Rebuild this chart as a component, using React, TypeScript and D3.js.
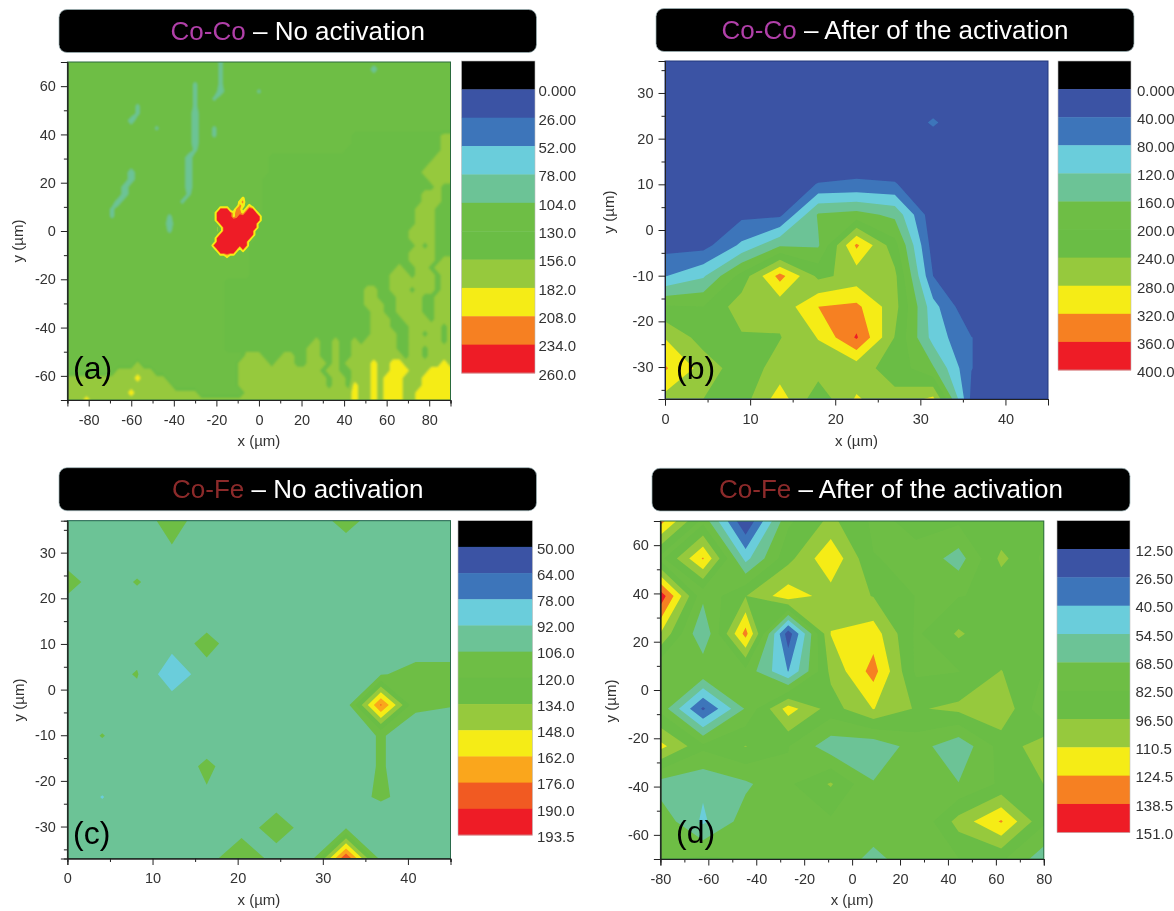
import React, { useEffect, useRef } from 'react'
import * as d3 from 'd3'

const FONT = '"Liberation Sans", Arial, sans-serif'

// band colours, low to high. black sits under the lowest label in the legend
const bands = ['#3a53a4', '#3c75ba', '#6bcddb', '#6cc396', '#6ebe45', '#6abd45', '#96c93d', '#f5ec13', '#f68020', '#ee1c25']
const bandsC = ['#3a53a4', '#3c75ba', '#6bcddb', '#6cc396', '#6ebe45', '#6abd45', '#96c93d', '#f5ec13', '#faa61a', '#f15a22', '#ee1c25']

const labelsA = ['0.000', '26.00', '52.00', '78.00', '104.0', '130.0', '156.0', '182.0', '208.0', '234.0', '260.0']
const labelsB = ['0.000', '40.00', '80.00', '120.0', '160.0', '200.0', '240.0', '280.0', '320.0', '360.0', '400.0']
const labelsC = ['50.00', '64.00', '78.00', '92.00', '106.0', '120.0', '134.0', '148.0', '162.0', '176.0', '190.0', '193.5']
const labelsD = ['12.50', '26.50', '40.50', '54.50', '68.50', '82.50', '96.50', '110.5', '124.5', '138.5', '151.0']

// panel a: map read in bands, one char per node, 3 um apart
// t/4 teal, . and : the two greens, 7 lime, 8 yellow
const bandValue = { t: 99, '4': 91, '.': 115, ':': 145, '7': 169, '8': 195, r: 255, o: 220, y: 195, l: 165, '-': 120 }

const mapA = [
  '.......... .......... ....t..... .......... .......... .......... .',
  '.......... .......... ....t..... .......... ........4. .......... .',
  '.......... .......... ....t..... .......... .......... .......... .',
  '.......... .......... t...t..... .......... .......... .......... .',
  '.......... .......... t...4..... t......... .......... .......... .',
  '.......... .......... t..t...... .......... .......... .......... .',
  '.......... .t........ t......... .......... .......... .......... .',
  '.......... .t........ 4......... .......... .......... .......... .',
  '.......... 4......... 4......... .......... .......... .......... .',
  '.......... ....t..... 4..t...... .......... .......... .......... .',
  '.......... .......... 4..t...... .......... .....::::: :::::::::7 7',
  '.......... .......... 4......... .......... .....::::: :::::::::7 7',
  '.......... .......... t......... .......... ....:::::: :::::::::7 7',
  '.......... .........4 .......... ..:::::::: :::::::::: ::::::::77 7',
  '.......... .........4 .......... ..:::::::: :::::::::: :::::::777 7',
  '.......... 4........4 .......... ..:::::::: :::::::::: ::::::7777 7',
  '.......... 4........4 .......... .::::::::: :::::::::: :::::::777 7',
  '.........4 .........4 .......... .::::::::: :::::::::: ::::::::7: :',
  '.........4 .........t .......... .::::::::: :::::::::: ::::::777: :',
  '........4. ........t. .......... .::::::::: :::::::::: ::::::777: :',
  '.......t.. .......... .......... .::::::::: :::::::::: :::::777:: :',
  '.......t.. ......t... .......... .::::::::: :::::::::: :::::777:: :',
  '.......... ......4... .......... :::::::::: :::::::::: :::::777:: :',
  '.......... ......t... .......... :::::::::: :::::::::: ::::7777:: :',
  '.......... .......... .......... :::::::::: :::::::::: ::::7777:: :',
  '.......... .......... .........: :::::::::: :::::::::: :::::7:7:: :',
  '.......... .......... .........: :::::::::: :::::::::: ::::7777:: :',
  '.......... .......... .........: :::::::::: :::::::::: ::::7777:7 7',
  '.......... .......... .........: :::::::::: :::::::::: ::7::77:77 7',
  '.......... .......... .........: :::::::::: :::::::::: :777:777:7 7',
  '.......... .......... .....::::: :::::::::: :::::::::: :7777777:7 7',
  '.......... .......... .....::::: :::::::::: :::::::77: :777:777:7 7',
  '.......... .......... .....::::: :::::::::: :::::::77: ::7777::77 7',
  '.......... .......... .....::::: :::::::::: :::::::777 ::7777::77 7',
  '.......... .......... .....::::: :::::::::: ::::::::77 ::7777::77 7',
  '.......... .......... .....::::: :::::::::: ::::::::77 7::7777:77 7',
  '.......... .......... .....::::: :::::::::: ::::::::77 7:::77777: 7',
  '.......... .......... .....::::: :::::::::: ::::::::77 77::77:77: 7',
  '.......... .......... .....::::: :::::::::7 ::7::7:777 77::77777: 7',
  '.......... .......... .....::::: ::::::::77 ::7::77777 77::77:777 7',
  '.......... .......... ........77 7:::77::77 ::7::77777 777:77:777 7',
  '.......... .7........ .......777 77:777::77 7:7:777787 7887777778 7',
  '........77 7777...... .......777 7777777777 :77::77787 7888777888 8',
  '7777777777 787777.... .......777 7777777777 7:77:77787 8887778888 8',
  '7777777777 7777777... .......777 7777777777 7:77:87787 8887778888 8',
  '7777777777 8777777777 7.......77 7777777777 7777787787 8887788888 8',
  '7778777777 7777777777 7777777777 7777777777 7777787787 8887788888 8',
]

// the red grain at the centre, 1.5 um apart, drawn over mapA
const grainA = [
  '...................',
  '...........y.......',
  '..........yo.......',
  '..........oy.y.....',
  '....rrr..oo.yrr....',
  '...rrrrryooyrrrr...',
  '...rrrrryorrrrrrr..',
  '...rrrrrrrrrrrrrr..',
  '....rrrrrrrrrrrr...',
  '...l.rrrrrrrrrrr...',
  '...l.rrrrrrrrrr....',
  '....rrrrrrrrrrr....',
  '...rrrrrrrrrrr.....',
  '...rrrrrrrrrr......',
  '..rrrrrrrrrrr......',
  '...rrrrrrr.r.......',
  '....rrrrr..........',
  '......y............',
  '...................',
]

// panel b, rows from y = 37 down to -37, columns x = 0 to 45
const gridB = [
  [15, 15, 15, 15, 15, 15, 15, 15, 15, 15, 15],
  [15, 15, 15, 15, 15, 15, 15, 15, 15, 15, 15],
  [15, 15, 15, 15, 15, 15, 15, 44, 15, 15, 15],
  [15, 15, 15, 15, 15, 15, 15, 15, 15, 15, 15],
  [15, 15, 15, 25, 41, 45, 42, 15, 15, 15, 15],
  [15, 15, 30, 30, 165, 175, 150, 10, 10, 10, 10],
  [25, 25, 88, 155, 155, 328, 215, 20, 10, 10, 10],
  [78, 115, 215, 335, 230, 255, 250, 40, 5, 10, 10],
  [205, 200, 262, 253, 320, 330, 255, 95, 1, 10, 10],
  [278, 222, 235, 238, 282, 365, 238, 105, 41, 10, 10],
  [325, 265, 215, 258, 258, 255, 225, 165, 41, 10, 10],
  [267, 240, 220, 300, 215, 285, 250, 290, 30, 10, 10],
]

// panel c, rows from y = 37 down to -37, columns x = 0 to 45
const gridC = [
  [100, 100, 97, 113, 97, 100, 100, 100, 110, 100, 100, 100],
  [100, 100, 100, 104, 100, 100, 100, 100, 100, 100, 100, 100],
  [110, 100, 106.8, 100, 100, 100, 100, 100, 100, 100, 100, 100],
  [100, 100, 100, 100, 97, 100, 100, 100, 100, 100, 100, 100],
  [100, 100, 100, 97, 111, 97, 100, 100, 100, 100, 100, 100],
  [100, 100, 107, 82, 100, 100, 100, 100, 100, 105, 110, 110],
  [100, 100, 100, 100, 100, 100, 100, 100, 98, 178, 108, 106.5],
  [100, 106.5, 100, 100, 97, 100, 100, 100, 100, 107, 100, 100],
  [100, 100, 100, 97, 109, 97, 100, 100, 100, 107, 100, 100],
  [100, 91.5, 100, 100, 104, 100, 100, 100, 100, 108.2, 100, 100],
  [100, 100, 100, 100, 100, 100, 112, 100, 105, 93, 100, 100],
  [100, 100, 100, 100, 100, 118, 100, 100, 190, 100, 100, 100],
]

// panel d, rows from y = 70 down to -70, columns x = -80 to 80
const gridD = [
  [130, 78, 13, 80, 100, 80, 85, 85, 85, 85],
  [78, 126, 50, 92, 122, 83, 80, 62, 100, 80],
  [148, 72, 96, 119, 104, 96, 82, 82, 85, 85],
  [110, 55, 130, 18, 111, 118, 80, 98.5, 85, 85],
  [69, 80, 78, 40, 100, 130, 80, 82, 97, 82],
  [78, 24, 70, 117, 90, 111, 95, 100, 108, 72],
  [115, 86, 97, 83, 60, 58, 75, 58, 88, 105],
  [62, 57, 66, 80, 98, 69.5, 80, 69, 85, 96.6],
  [78, 52, 75, 80, 80, 80, 69, 102, 126, 85],
  [80, 85, 82, 82, 82, 63, 80, 82, 85, 60],
]

const ticksWide = [-80, -60, -40, -20, 0, 20, 40, 60, 80]
const minorWide = [-90, -70, -50, -30, -10, 10, 30, 50, 70, 90]
const minorWideD = [-70, -50, -30, -10, 10, 30, 50, 70]
const ticksTall = [-60, -40, -20, 0, 20, 40, 60]
const minorTall = [-70, -50, -30, -10, 10, 30, 50, 70]
const ticksNarrow = [0, 10, 20, 30, 40]
const minorNarrow = [5, 15, 25, 35, 45]
const ticksSmallY = [-30, -20, -10, 0, 10, 20, 30]
const minorSmallY = [-35, -25, -15, -5, 5, 15, 25, 35]

const parseRows = (rows: string[]) =>
  rows.map((r) => Array.from(r.replace(/ /g, ''), (c) => bandValue[c]))

const Axis = ({ scale, side, y, x, ticks, minor }) => {
  const ref = useRef(null)
  useEffect(() => {
    const g = d3.select(ref.current)
    g.selectAll('*').remove()
    const make = side === 'bottom' ? d3.axisBottom : d3.axisLeft
    const minorAxis = make(scale).tickValues(minor).tickSize(3.5).tickFormat(() => '')
    const majorAxis = make(scale)
      .tickValues(ticks)
      .tickSize(6.5)
      .tickPadding(side === 'bottom' ? 8 : 5)
      .tickFormat((d) => String(d)) // plain hyphen, as in the figure
    g.append('g').call(minorAxis)
    g.append('g').call(majorAxis)
    g.selectAll('path.domain').attr('stroke', '#222')
    g.selectAll('line').attr('stroke', '#222')
    g.selectAll('text')
      .attr('fill', '#333')
      .attr('font-family', FONT)
      .attr('font-size', 14.5)
  }, [scale, side, ticks, minor])
  return <g ref={ref} transform={`translate(${x},${y})`} />
}

// filled contours of a value grid, nodes placed through the panel's data scales
const ContourLayer = ({ grid, levels, colors, x, y, x0, y0, dx, dy, edge = null }) => {
  const h = grid.length
  const w = grid[0].length
  const gen = d3.contours().size([w, h]).smooth(true).thresholds(levels)
  const polys = gen(grid.flat())
  const path = d3.geoPath(d3.geoTransform({
    point(gx, gy) {
      this.stream.point(x(x0 + (gx - 0.5) * dx), y(y0 - (gy - 0.5) * dy))
    },
  }))
  return (
    <g>
      {polys.map((p, i) => (
        <path
          key={i}
          d={path(p)}
          fill={colors[i]}
          stroke={edge && edge.level === i ? colors[i] : 'none'}
          strokeWidth={edge && edge.level === i ? edge.width : 0}
          strokeLinejoin="round"
        />
      ))}
    </g>
  )
}

const Legend = ({ box, labels, colors, labelX }) => {
  const all = ['#000000', ...colors]
  const ly = d3.scaleLinear().domain([0, all.length]).range([box.top, box.bottom])
  return (
    <g>
      {all.map((c, i) => (
        <rect key={c + i} x={box.left} y={ly(i)} width={box.right - box.left} height={ly(i + 1) - ly(i) + 0.4} fill={c} />
      ))}
      <rect x={box.left} y={box.top} width={box.right - box.left} height={box.bottom - box.top} fill="none" stroke="#bbb" strokeWidth={0.6} />
      {labels.map((t, i) => (
        <text key={t} x={labelX} y={ly(i + 1) + 6.8} fontFamily={FONT} fontSize={15} fill="#333">{t}</text>
      ))}
    </g>
  )
}

const Title = ({ box, lead, leadColor, rest, baseline }) => (
  <g>
    <rect x={box.left} y={box.top} width={box.right - box.left} height={box.bottom - box.top} rx={8} fill="#000" stroke="#9db4b8" strokeWidth={0.7} />
    <text x={(box.left + box.right) / 2} y={baseline} textAnchor="middle" fontFamily={FONT} fontSize={26} fill="#fff">
      <tspan fill={leadColor}>{lead}</tspan>
      <tspan> – {rest}</tspan>
    </text>
  </g>
)

const Panel = ({ p }) => {
  const x = d3.scaleLinear().domain(p.xDomain).range([p.plot.left, p.plot.right])
  const y = d3.scaleLinear().domain(p.yDomain).range([p.plot.bottom, p.plot.top])
  const grid = p.grid
  const dx = (p.xDomain[1] - p.xDomain[0]) / (grid[0].length - 1)
  const dy = (p.yDomain[1] - p.yDomain[0]) / (grid.length - 1)
  const levels = p.labels.slice(0, -1).map(Number)
  return (
    <g>
      <Title box={p.title} lead={p.lead} leadColor={p.leadColor} rest={p.rest} baseline={p.titleBase} />
      <clipPath id={`clip-${p.id}`}>
        <rect x={p.plot.left} y={p.plot.top} width={p.plot.right - p.plot.left} height={p.plot.bottom - p.plot.top} />
      </clipPath>
      <g clipPath={`url(#clip-${p.id})`}>
        <g filter={p.inset ? 'url(#softer)' : undefined}>
          <rect x={p.plot.left - 12} y={p.plot.top - 12} width={p.plot.right - p.plot.left + 24} height={p.plot.bottom - p.plot.top + 24} fill={p.inset ? p.colors[4] : p.colors[0]} />
          <ContourLayer grid={grid} levels={levels} colors={p.colors} x={x} y={y} x0={p.xDomain[0]} y0={p.yDomain[1]} dx={dx} dy={dy} />
        </g>
        {p.inset && (
          <ContourLayer grid={p.inset.grid} levels={levels.slice(6)} colors={p.colors.slice(6)} x={x} y={y} x0={p.inset.x0} y0={p.inset.y0} dx={p.inset.step} dy={p.inset.step} edge={{ level: 1, width: 2.4 }} />
        )}
      </g>
      <rect x={p.plot.left} y={p.plot.top} width={p.plot.right - p.plot.left} height={p.plot.bottom - p.plot.top} fill="none" stroke={p.frame} strokeWidth={1} />
      <Axis scale={x} side="bottom" x={0} y={p.plot.bottom} ticks={p.xTicks} minor={p.xMinor} />
      <Axis scale={y} side="left" x={p.plot.left} y={0} ticks={p.yTicks} minor={p.yMinor} />
      <text x={(p.plot.left + p.plot.right) / 2} y={p.xLabelY} textAnchor="middle" fontFamily={FONT} fontSize={15} fill="#333">x (µm)</text>
      <text transform={`translate(${p.yLabel[0]},${p.yLabel[1]}) rotate(-90)`} textAnchor="middle" fontFamily={FONT} fontSize={15} fill="#333">y (µm)</text>
      <text x={p.tag[0]} y={p.tag[1]} fontFamily={FONT} fontSize={32} fill="#000">{p.tagText}</text>
      <Legend box={p.legend} labels={p.labels} colors={p.colors} labelX={p.labelX} />
    </g>
  )
}

const panels = [
  {
    id: 'a', tagText: '(a)', lead: 'Co-Co', leadColor: '#b13fa9', rest: 'No activation',
    title: { left: 59, right: 536.5, top: 9.5, bottom: 52.5 }, titleBase: 40,
    plot: { left: 67.4, right: 450.5, top: 62, bottom: 400 },
    legend: { left: 461.5, right: 535, top: 61, bottom: 373 }, labelX: 538.5,
    xDomain: [-90, 90], yDomain: [-70, 70], xTicks: ticksWide, xMinor: minorWide, yTicks: ticksTall, yMinor: minorTall,
    labels: labelsA, colors: bands, grid: parseRows(mapA), frame: '#2c6a3c',
    inset: { grid: parseRows(grainA), x0: -24, y0: 15, step: 1.5 },
    xLabelY: 446, yLabel: [23, 241], tag: [73, 379],
  },
  {
    id: 'b', tagText: '(b)', lead: 'Co-Co', leadColor: '#b13fa9', rest: 'After of the activation',
    title: { left: 656, right: 1134, top: 8.5, bottom: 51.5 }, titleBase: 39,
    plot: { left: 665, right: 1048, top: 61, bottom: 399 },
    legend: { left: 1058, right: 1131, top: 61, bottom: 370 }, labelX: 1137,
    xDomain: [0, 45], yDomain: [-37, 37], xTicks: ticksNarrow, xMinor: minorNarrow, yTicks: ticksSmallY, yMinor: minorSmallY,
    labels: labelsB, colors: bands, grid: gridB, frame: '#24367d',
    xLabelY: 446, yLabel: [614, 212], tag: [676, 379],
  },
  {
    id: 'c', tagText: '(c)', lead: 'Co-Fe', leadColor: '#8c2b2b', rest: 'No activation',
    title: { left: 59, right: 536.5, top: 467.7, bottom: 510.7 }, titleBase: 498,
    plot: { left: 67.4, right: 450.5, top: 520.7, bottom: 858.5 },
    legend: { left: 458, right: 532.5, top: 520.7, bottom: 835 }, labelX: 537,
    xDomain: [0, 45], yDomain: [-37, 37], xTicks: ticksNarrow, xMinor: minorNarrow, yTicks: ticksSmallY, yMinor: minorSmallY,
    labels: labelsC, colors: bandsC, grid: gridC, frame: '#2c6a4c',
    xLabelY: 905, yLabel: [24, 700], tag: [73, 844],
  },
  {
    id: 'd', tagText: '(d)', lead: 'Co-Fe', leadColor: '#8c2b2b', rest: 'After of the activation',
    title: { left: 652, right: 1130, top: 468.3, bottom: 511 }, titleBase: 498,
    plot: { left: 660.4, right: 1043.8, top: 521, bottom: 859 },
    legend: { left: 1057, right: 1130, top: 520.7, bottom: 832.3 }, labelX: 1135.5,
    xDomain: [-80, 80], yDomain: [-70, 70], xTicks: ticksWide, xMinor: minorWideD, yTicks: ticksTall, yMinor: minorTall,
    labels: labelsD, colors: bands, grid: gridD, frame: '#2c6a3c',
    xLabelY: 905, yLabel: [616, 701], tag: [676, 843],
  },
]

export default function App() {
  return (
    <svg width={1174} height={911} style={{ position: 'absolute', left: 0, top: 0, background: '#fff' }}>
      <defs>
        <filter id="soft" x="0" y="0" width="100%" height="100%">
          <feGaussianBlur stdDeviation="0.5" />
        </filter>
        <filter id="softer">
          <feGaussianBlur stdDeviation="1.3" />
        </filter>
      </defs>
      <g filter="url(#soft)">
        {panels.map((p) => (
          <Panel key={p.id} p={p} />
        ))}
      </g>
    </svg>
  )
}
